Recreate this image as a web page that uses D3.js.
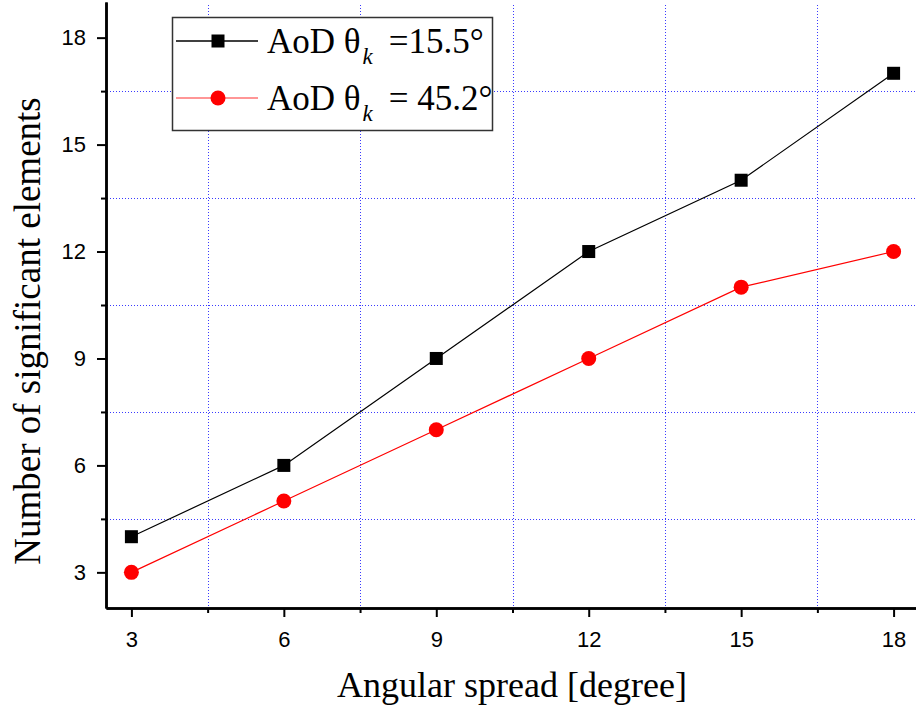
<!DOCTYPE html>
<html>
<head>
<meta charset="utf-8">
<script src="https://cdn.jsdelivr.net/npm/d3@7"></script>
<style>
  body { margin: 0; background: #fff; }
</style>
</head>
<body>
<svg id="chart" width="916" height="712"></svg>
<script>
var spread = [3, 6, 9, 12, 15, 18];
var aod155 = [4, 6, 9, 12, 14, 17];
var aod452 = [3, 5, 7, 9, 11, 12];
var majorTicks = [3, 6, 9, 12, 15, 18];
var minorTicks = [4.5, 7.5, 10.5, 13.5, 16.5];

var svg = d3.select('#chart');
var xScale = d3.scaleLinear().domain([2.5, 18.5]).range([106, 919]);
var yScale = d3.scaleLinear().domain([2, 19]).range([608, 2]);

// grid at minor ticks, blue dotted
var grid = svg.append('g')
    .attr('stroke', '#3a3aff')
    .attr('stroke-width', 1)
    .attr('stroke-dasharray', '1,2')
    .attr('shape-rendering', 'crispEdges');
grid.selectAll('.vg').data(minorTicks).enter().append('line')
    .attr('x1', d => Math.round(xScale(d)) + 0.5).attr('x2', d => Math.round(xScale(d)) + 0.5)
    .attr('y1', 5).attr('y2', 607);
grid.selectAll('.hg').data(minorTicks).enter().append('line')
    .attr('y1', d => Math.round(yScale(d)) + 0.5).attr('y2', d => Math.round(yScale(d)) + 0.5)
    .attr('x1', 107).attr('x2', 916);

// axes
var xAxis = svg.append('g')
    .attr('transform', 'translate(0,608)')
    .call(d3.axisBottom(xScale).tickValues(majorTicks).tickSize(9).tickPadding(14).tickSizeOuter(0));
var xMinor = svg.append('g')
    .attr('transform', 'translate(0,608)')
    .call(d3.axisBottom(xScale).tickValues(minorTicks).tickSize(5).tickFormat('').tickSizeOuter(0));
var yAxis = svg.append('g')
    .attr('transform', 'translate(106,0)')
    .call(d3.axisLeft(yScale).tickValues(majorTicks).tickSize(9).tickPadding(11).tickSizeOuter(0));
var yMinor = svg.append('g')
    .attr('transform', 'translate(106,0)')
    .call(d3.axisLeft(yScale).tickValues(minorTicks).tickSize(5).tickFormat('').tickSizeOuter(0));
[xAxis, xMinor, yAxis, yMinor].forEach(a => {
    a.attr('font-size', 22).attr('font-family', '"Liberation Sans", Arial, sans-serif');
    a.selectAll('path.domain').attr('stroke', '#000').attr('stroke-width', 2.5);
    a.selectAll('.tick line').attr('stroke', '#000').attr('stroke-width', 2);
    a.selectAll('.tick text').attr('fill', '#000');
});

// axis titles
svg.append('text')
    .attr('x', 512).attr('y', 697)
    .attr('text-anchor', 'middle')
    .style('font-family', '"Liberation Serif", "Times New Roman", serif')
    .style('font-size', '36px')
    .text('Angular spread [degree]');
svg.append('text')
    .attr('transform', 'translate(40,331) rotate(-90)')
    .attr('text-anchor', 'middle')
    .style('font-family', '"Liberation Serif", "Times New Roman", serif')
    .style('font-size', '37px')
    .text('Number of significant elements');

// series
var series = [
    { values: aod155, color: '#000', shape: 'square' },
    { values: aod452, color: '#ff0000', shape: 'circle' }
];
var line = d3.line()
    .x(d => xScale(d[0]))
    .y(d => yScale(d[1]));

series.forEach(s => {
    var pts = spread.map((x, i) => [x, s.values[i]]);
    svg.append('path')
        .datum(pts)
        .attr('fill', 'none')
        .attr('stroke', s.color)
        .attr('stroke-width', 1.2)
        .attr('d', line);
    if (s.shape === 'square') {
        svg.selectAll(null).data(pts).enter().append('rect')
            .attr('x', d => xScale(d[0]) - 6.5)
            .attr('y', d => yScale(d[1]) - 6.5)
            .attr('width', 13).attr('height', 13)
            .attr('fill', s.color);
    } else {
        svg.selectAll(null).data(pts).enter().append('circle')
            .attr('cx', d => xScale(d[0]))
            .attr('cy', d => yScale(d[1]))
            .attr('r', 7.5)
            .attr('fill', s.color);
    }
});

// legend
var legend = svg.append('g');
legend.append('rect')
    .attr('x', 172.5).attr('y', 17.5)
    .attr('width', 320).attr('height', 113)
    .attr('fill', '#fff')
    .attr('stroke', '#333').attr('stroke-width', 1.5);
var legendLabels = [
    { pre: 'AoD θ', post: '=15.5°' },
    { pre: 'AoD θ', post: '= 45.2°' }
];
legendLabels.forEach((lab, i) => {
    var y = 41 + i * 57;
    var s = series[i];
    legend.append('line')
        .attr('x1', 176).attr('x2', 258).attr('y1', y).attr('y2', y)
        .attr('stroke', s.color)
        .attr('stroke-opacity', i === 1 ? 0.55 : 1)
        .attr('stroke-width', 1.5);
    if (s.shape === 'square') {
        legend.append('rect')
            .attr('x', 218 - 6.5).attr('y', y - 6.5)
            .attr('width', 13).attr('height', 13)
            .attr('fill', s.color);
    } else {
        legend.append('circle')
            .attr('cx', 218).attr('cy', y).attr('r', 7.5)
            .attr('fill', s.color);
    }
    var t = legend.append('text')
        .attr('x', 267).attr('y', y + 12)
        .style('font-family', '"Liberation Serif", "Times New Roman", serif')
        .style('font-size', '35px');
    t.append('tspan').text(lab.pre);
    t.append('tspan').attr('dx', 2).attr('dy', 11).style('font-size', '23px').style('font-style', 'italic').text('k');
    t.append('tspan').attr('dx', 16).attr('dy', -11).text(lab.post);
});
</script>
</body>
</html>
